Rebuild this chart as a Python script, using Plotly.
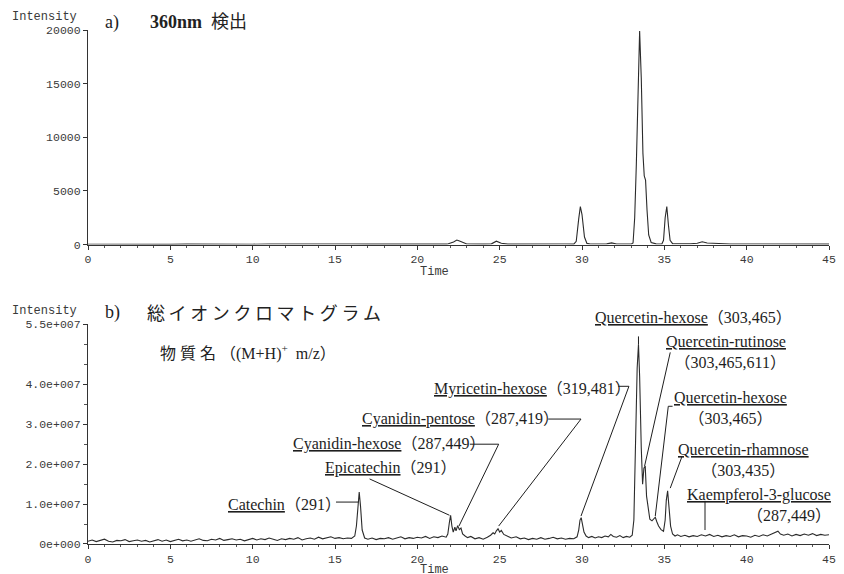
import numpy as np
import plotly.graph_objects as go
from plotly.subplots import make_subplots

# ---------------- a) UV trace at 360 nm ----------------
uv_time = [0, 1, 2, 3, 4, 5, 6, 7, 8, 9, 10, 11, 12, 13, 14, 15, 16, 17, 18, 19, 20, 21,
           21.8, 22.2, 22.4, 22.6, 23.0, 24.0, 24.5, 24.8, 25.1, 25.5, 26, 27, 28, 29,
           29.5, 29.65, 29.8, 29.9, 30.0, 30.15, 30.3, 30.5, 31, 31.5, 31.8, 32.1, 32.5,
           33.0, 33.1, 33.2, 33.3, 33.4, 33.5, 33.6, 33.7, 33.78, 33.86, 33.95, 34.05,
           34.2, 34.5, 34.85, 34.95, 35.05, 35.15, 35.25, 35.35, 35.5, 36.0, 36.3, 36.6,
           37.0, 37.3, 37.6, 38.0, 38.4, 39, 40, 41, 42, 43, 44, 45]
uv_intensity = [30, 20, 40, 25, 35, 20, 45, 30, 25, 40, 35, 60, 45, 40, 55, 40, 50, 45, 40, 55, 50, 45,
                40, 250, 420, 300, 60, 45, 70, 320, 130, 40, 50, 45, 40, 50,
                45, 300, 2400, 3550, 2800, 700, 110, 50, 60, 70, 160, 60, 50,
                60, 150, 2500, 7500, 14000, 19900, 15500, 8500, 6400, 6000, 3200, 900,
                200, 70, 60, 400, 2500, 3550, 1800, 400, 90, 70, 100, 80,
                120, 260, 150, 120, 50, 60, 50, 45, 55, 40, 50, 45]

# ---------------- b) total ion chromatogram (x 1e7 counts) ----------------
tic_time = (
    [0, 0.25, 0.5, 0.75, 1, 1.25, 1.5, 1.75, 2, 2.25, 2.5, 2.75, 3, 3.25, 3.5, 3.75,
     4, 4.25, 4.5, 4.75, 5, 5.25, 5.5, 5.75, 6, 6.25, 6.5, 6.75, 7, 7.25, 7.5, 7.75,
     8, 8.25, 8.5, 8.75, 9, 9.25, 9.5, 9.75, 10, 10.25, 10.5, 10.75, 11, 11.25, 11.5, 11.75,
     12, 12.25, 12.5, 12.75, 13, 13.25, 13.5, 13.75, 14, 14.25, 14.5, 14.75, 15, 15.25, 15.5, 15.75,
     16.0, 16.2, 16.3, 16.4, 16.47, 16.55, 16.65, 16.8,
     17, 17.25, 17.5, 17.75, 18, 18.25, 18.5, 18.75, 19, 19.25, 19.5, 19.75,
     20, 20.25, 20.5, 20.75, 21, 21.25, 21.5, 21.75,
     21.85, 21.95, 22.02, 22.1, 22.18, 22.28, 22.35, 22.45, 22.55, 22.65, 22.75, 22.9,
     23.05, 23.25, 23.5, 23.75, 24.0, 24.25, 24.45, 24.6, 24.7, 24.8, 24.9, 25.0, 25.1,
     25.25, 25.45, 25.7, 26.0, 26.25, 26.5, 26.75, 27.0, 27.25, 27.5, 27.75, 28.0,
     28.25, 28.5, 28.75, 29.0, 29.25, 29.5, 29.7, 29.8, 29.88, 29.95, 30.03, 30.12,
     30.25, 30.4, 30.6, 30.8, 31.0, 31.2, 31.4, 31.6, 31.75, 31.9, 32.1, 32.3, 32.5,
     32.7, 32.9, 33.05, 33.15, 33.25, 33.35, 33.43, 33.5, 33.6, 33.68, 33.76, 33.84,
     33.92, 34.02, 34.12, 34.25, 34.35, 34.45, 34.55, 34.65, 34.8, 34.95, 35.05, 35.12,
     35.2, 35.28, 35.38, 35.5, 35.65, 35.8, 36.0, 36.25, 36.5, 36.75, 37.0, 37.25, 37.5,
     37.75, 38.0, 38.25, 38.5, 38.75, 39.0, 39.25, 39.5, 39.75, 40.0, 40.25, 40.5, 40.75,
     41.0, 41.25, 41.5, 41.75, 41.9, 42.05, 42.25, 42.5, 42.75, 43.0, 43.25, 43.5, 43.75,
     44.0, 44.25, 44.5, 44.75, 45.0]
)
tic_e7 = (
    [0.07, 0.10, 0.06, 0.09, 0.12, 0.07, 0.05, 0.09, 0.08, 0.11, 0.06, 0.08, 0.10, 0.07, 0.09, 0.05,
     0.08, 0.11, 0.07, 0.10, 0.06, 0.09, 0.12, 0.08, 0.10, 0.07, 0.11, 0.13, 0.09, 0.08, 0.12, 0.10,
     0.14, 0.09, 0.11, 0.13, 0.10, 0.12, 0.08, 0.11, 0.14, 0.10, 0.13, 0.11, 0.15, 0.12, 0.09, 0.13,
     0.11, 0.14, 0.12, 0.16, 0.10, 0.13, 0.15, 0.12, 0.17, 0.13, 0.15, 0.18, 0.14, 0.16, 0.13, 0.15,
     0.14, 0.20, 0.45, 1.00, 1.30, 0.95, 0.35, 0.15,
     0.12, 0.15, 0.11, 0.14, 0.13, 0.16, 0.12, 0.15, 0.18, 0.13, 0.16, 0.14,
     0.17, 0.15, 0.19, 0.14, 0.18, 0.16, 0.20, 0.17,
     0.25, 0.55, 0.72, 0.45, 0.30, 0.42, 0.33, 0.46, 0.36, 0.40, 0.25, 0.20,
     0.16, 0.19, 0.13, 0.16, 0.12, 0.17, 0.22, 0.28, 0.25, 0.33, 0.38, 0.30, 0.34,
     0.24, 0.20, 0.15, 0.18, 0.13, 0.15, 0.11, 0.14, 0.12, 0.16, 0.12, 0.14,
     0.17, 0.13, 0.15, 0.12, 0.14, 0.13, 0.18, 0.35, 0.60, 0.66, 0.50, 0.30,
     0.20, 0.16, 0.19, 0.15, 0.18, 0.16, 0.20, 0.18, 0.24, 0.19, 0.17, 0.21, 0.16,
     0.19, 0.17, 0.22, 0.60, 2.60, 4.40, 5.00, 4.20, 2.40, 1.50, 1.90, 1.95,
     1.20, 0.85, 0.62, 0.58, 0.63, 0.67, 0.55, 0.45, 0.36, 0.32, 0.60, 1.10,
     1.33, 0.90, 0.45, 0.25, 0.20, 0.23, 0.19, 0.22, 0.18, 0.21, 0.19, 0.23, 0.20,
     0.24, 0.19, 0.22, 0.18, 0.21, 0.19, 0.23, 0.18, 0.21, 0.20, 0.17, 0.22, 0.19,
     0.23, 0.20, 0.24, 0.28, 0.32, 0.25, 0.22, 0.25, 0.20, 0.24, 0.21, 0.25, 0.22,
     0.26, 0.21, 0.24, 0.22, 0.23]
)
tic_intensity = np.array(tic_e7) * 1e7

# ---------------- peak identities: name, (M+H)+ m/z ----------------
compounds = ["Catechin", "Epicatechin", "Cyanidin-hexose", "Cyanidin-pentose",
             "Myricetin-hexose", "Quercetin-hexose", "Quercetin-rutinose",
             "Quercetin-hexose", "Quercetin-rhamnose", "Kaempferol-3-glucose"]
mz_values = ["291", "291", "287,449", "287,419", "319,481", "303,465",
             "303,465,611", "303,465", "303,435", "287,449"]

# label placement (time, intensity in 1e7, anchor, two-line?) and leader paths
label_pos = [
    (8.37, 1.00, "left", False),
    (14.28, 1.90, "left", False),
    (12.35, 2.50, "left", False),
    (16.50, 3.13, "left", False),
    (20.90, 3.88, "left", False),
    (30.68, 5.68, "left", False),
    (42.50, 4.81, "right", True),
    (39.02, 3.40, "center", True),
    (39.78, 2.10, "center", True),
    (45.25, 0.975, "right", True),
]
leaders = [
    [(15.06, 1.05), (16.42, 1.05)],
    [(17.10, 1.63), (21.95, 0.72)],
    [(23.19, 2.50), (24.94, 2.50), (22.53, 0.45)],
    [(27.95, 3.13), (29.94, 3.13), (24.94, 0.45)],
    [(32.20, 3.95), (32.85, 3.95), (29.94, 0.70)],
    [(33.43, 5.20), (33.43, 5.00)],
    [(35.36, 4.80), (33.80, 1.95)],
    [(35.50, 3.45), (35.24, 3.45), (34.45, 0.70)],
    [(36.08, 2.20), (35.36, 1.40)],
    [(37.47, 1.08), (37.47, 0.35)],
]

W, H = 844, 574
L, R, T, B = 88, 8, 30, 29
PW, PH = W - L - R, H - T - B
TIME_MAX = 45
TIC_MAX = 5.5e7

def paper(xpx, ypx):
    return (xpx - L) / PW, (H - B - ypx) / PH

ya_dom = [paper(0, 245)[1], 1.0]
yb_dom = [0.0, paper(0, 325)[1]]

fig = make_subplots(rows=2, cols=1)
line_col = "#2b2b2b"
fig.add_trace(go.Scatter(x=uv_time, y=uv_intensity, mode="lines",
                         line=dict(color=line_col, width=1.1), showlegend=False),
              row=1, col=1)
fig.add_trace(go.Scatter(x=tic_time, y=tic_intensity, mode="lines",
                         line=dict(color=line_col, width=1.1), showlegend=False),
              row=2, col=1)

mono = dict(family="Liberation Mono, Courier New, monospace", size=11.5, color="#3a3a3a")
serif = "Liberation Serif, Times New Roman, Noto Sans CJK JP, serif"
cjk = "Noto Sans CJK JP, sans-serif"

axis_common = dict(showline=True, linecolor="#333", linewidth=1.2, showgrid=False,
                   zeroline=False, ticks="outside", ticklen=4, tickcolor="#333",
                   tickfont=mono)
xticks = dict(range=[0, TIME_MAX], tickvals=list(range(0, 46, 5)),
              minor=dict(tickmode="linear", tick0=0, dtick=1, ticklen=2,
                         ticks="outside", tickcolor="#555"))
fig.update_layout(
    width=W, height=H, margin=dict(l=L, r=R, t=T, b=B),
    plot_bgcolor="white", paper_bgcolor="white",
    xaxis=dict(**axis_common, **xticks, anchor="y"),
    xaxis2=dict(**axis_common, **xticks, anchor="y2"),
    yaxis=dict(**axis_common, domain=ya_dom, range=[0, 20000],
               tickvals=[0, 5000, 10000, 15000, 20000],
               ticktext=["0", "5000", "10000", "15000", "20000"]),
    yaxis2=dict(**axis_common, domain=yb_dom, range=[0, TIC_MAX],
                tickvals=[0, 1e7, 2e7, 3e7, 4e7, 5.5e7],
                ticktext=["0e+000", "1.0e+007", "2.0e+007", "3.0e+007",
                          "4.0e+007", "5.5e+007"],
                minor=dict(tickmode="linear", tick0=0, dtick=5e6, ticklen=3,
                           ticks="outside", tickcolor="#555")),
)

ann = []

def ptext(text, xpx, ypx, xanchor="left", font=None):
    xp, yp = paper(xpx, ypx)
    ann.append(dict(text=text, x=xp, y=yp, xref="paper", yref="paper",
                    xanchor=xanchor, yanchor="middle", showarrow=False,
                    font=font or mono))

# panel headings and axis captions
ptext("Intensity", 79, 17, "right", dict(mono, size=12))
ptext("a)", 103, 22, "left", dict(family=serif, size=18, color="#222"))
ptext("<b>360nm</b>\u00a0 検出", 149, 22, "left", dict(family=serif, size=18, color="#222"))
ptext("Time", 438, 272, "center", dict(mono, size=12))
ptext("Intensity", 79, 312, "right", dict(mono, size=12))
ptext("b)", 103, 313, "left", dict(family=serif, size=18, color="#222"))
ptext("総\u2009イ\u2009オ\u2009ン\u2009ク\u2009ロ\u2009マ\u2009ト\u2009グ\u2009ラ\u2009ム",
      146, 313, "left", dict(family=cjk, size=18, color="#222"))
ptext("物\u00a0質\u00a0名\u00a0（(M+H)<sup>+</sup>\u00a0\u00a0m/z）", 159, 353, "left",
      dict(family=serif, size=16, color="#222"))
ptext("Time", 438, 571, "center", dict(mono, size=12))

# compound labels, placed in paper space derived from (time, intensity)
for name, mz, (tx, ty, anchor, two) in zip(compounds, mz_values, label_pos):
    sep = "<br>" if two else ""
    text = f"<u>{name}</u>{sep}（{mz}）"
    ann.append(dict(text=text, x=tx / TIME_MAX, y=ty * 1e7 / TIC_MAX * yb_dom[1],
                    xref="paper", yref="paper",
                    xanchor=anchor, yanchor="middle", align=anchor,
                    showarrow=False,
                    font=dict(family=serif, size=16, color="#1e1e1e")))

fig.update_layout(annotations=ann)

# leader lines from labels to peaks
shapes = []
for path in leaders:
    for (x0, y0), (x1, y1) in zip(path[:-1], path[1:]):
        shapes.append(dict(type="line", xref="x2", yref="y2",
                           x0=x0, y0=y0 * 1e7, x1=x1, y1=y1 * 1e7,
                           line=dict(color="#1e1e1e", width=1)))
fig.update_layout(shapes=shapes)

fig.write_html("out.html")
